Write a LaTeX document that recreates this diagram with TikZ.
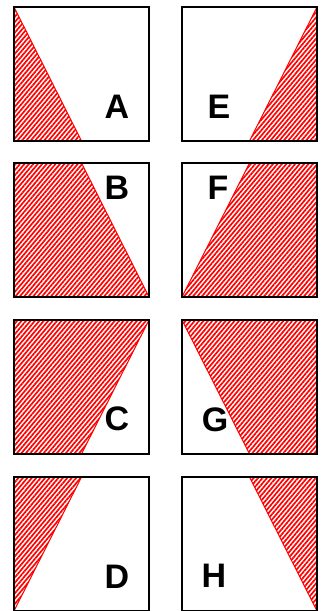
\documentclass[tikz,border=0pt]{standalone}
\usepackage{fontspec}
\setmainfont{Liberation Sans}
\usetikzlibrary{patterns.meta}
\tikzset{
  panel/.style = {draw, line width=2pt},
  hatch/.style = {pattern={Lines[angle=50, distance=3.4pt, line width=1.7pt]}, pattern color=red},
  cut/.style   = {red, line width=1pt},
  plab/.style  = {font=\fontsize{34}{34}\selectfont\bfseries, inner sep=0pt},
}
% a panel is 135 wide and 134 high, corners (0,0) top left, (135,134) bottom right
\newcommand{\pw}{135}
\newcommand{\ph}{134}

\begin{document}
\begin{tikzpicture}[x=1pt, y=-1pt]
\useasboundingbox (0,0) rectangle (325,611);
% left column
\begin{scope}[shift={(14,7)}]
  \fill[hatch] (0,0) -- (67.5,\ph) -- (0,\ph) -- cycle;
  \draw[cut] (0,0) -- (67.5,\ph);
  \draw[panel] (0,0) rectangle (\pw,\ph);
  \node[plab] (la) at (103,100) {A};
\end{scope}
\begin{scope}[shift={(14,163)}]
  \fill[hatch] (0,0) -- (67.5,0) -- (\pw,\ph) -- (0,\ph) -- cycle;
  \draw[cut] (67.5,0) -- (\pw,\ph);
  \draw[panel] (0,0) rectangle (\pw,\ph);
  \node[plab] (lb) at (103,25) {B};
\end{scope}
\begin{scope}[shift={(14,320)}]
  \fill[hatch] (0,0) -- (\pw,0) -- (67.5,\ph) -- (0,\ph) -- cycle;
  \draw[cut] (\pw,0) -- (67.5,\ph);
  \draw[panel] (0,0) rectangle (\pw,\ph);
  \node[plab] (lc) at (103,99) {C};
\end{scope}
\begin{scope}[shift={(14,477)}]
  \fill[hatch] (0,0) -- (67.5,0) -- (0,\ph) -- cycle;
  \draw[cut] (67.5,0) -- (0,\ph);
  \draw[panel] (0,0) rectangle (\pw,\ph);
  \node[plab] (ld) at (103,100) {D};
\end{scope}
% right column
\begin{scope}[shift={(182,7)}]
  \fill[hatch] (\pw,0) -- (\pw,\ph) -- (67.5,\ph) -- cycle;
  \draw[cut] (\pw,0) -- (67.5,\ph);
  \draw[panel] (0,0) rectangle (\pw,\ph);
  \node[plab] (le) at (37,100) {E};
\end{scope}
\begin{scope}[shift={(182,163)}]
  \fill[hatch] (67.5,0) -- (\pw,0) -- (\pw,\ph) -- (0,\ph) -- cycle;
  \draw[cut] (67.5,0) -- (0,\ph);
  \draw[panel] (0,0) rectangle (\pw,\ph);
  \node[plab] (lf) at (36,25) {F};
\end{scope}
\begin{scope}[shift={(182,320)}]
  \fill[hatch] (0,0) -- (\pw,0) -- (\pw,\ph) -- (67.5,\ph) -- cycle;
  \draw[cut] (0,0) -- (67.5,\ph);
  \draw[panel] (0,0) rectangle (\pw,\ph);
  \node[plab] (lg) at (33,100) {G};
\end{scope}
\begin{scope}[shift={(182,477)}]
  \fill[hatch] (67.5,0) -- (\pw,0) -- (\pw,\ph) -- cycle;
  \draw[cut] (67.5,0) -- (\pw,\ph);
  \draw[panel] (0,0) rectangle (\pw,\ph);
  \node[plab] (lh) at (32,99) {H};
\end{scope}
\end{tikzpicture}
\end{document}
